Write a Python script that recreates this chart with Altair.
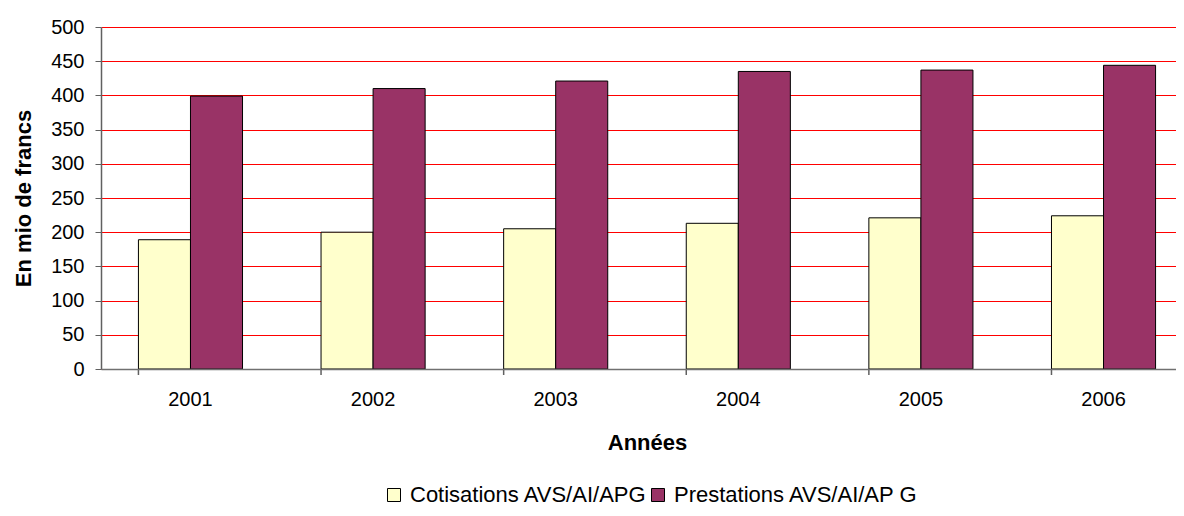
import altair as alt
import pandas as pd

years = ["2001", "2002", "2003", "2004", "2005", "2006"]
cotisations = [189, 200, 205, 213, 221, 224]
prestations = [399, 410, 421, 435, 437, 444]
series_names = ["Cotisations AVS/AI/APG", "Prestations AVS/AI/AP G"]
series_colors = ["#FFFFCC", "#993366"]
y_ticks = [0, 50, 100, 150, 200, 250, 300, 350, 400, 450, 500]

rows = []
for i, yv in enumerate(years):
    rows.append({"year": yv, "series": series_names[0], "value": cotisations[i]})
    rows.append({"year": yv, "series": series_names[1], "value": prestations[i]})
df = pd.DataFrame(rows)
df_years = pd.DataFrame({"year": years})

FONT = "Liberation Sans"
W, H = 1075, 342
FULL_W = 1092  # the category axis runs past the right edge of the picture

xscale = alt.Scale(domain=years, paddingInner=0.43, paddingOuter=0.205, range=[0, FULL_W])

bars = alt.Chart(df).mark_bar(stroke="#000000", strokeWidth=1).encode(
    x=alt.X("year:N", scale=xscale, sort=years,
            axis=alt.Axis(title="Années", labelAngle=0, ticks=False, tickSize=0,
                          labelFontSize=20, labelPadding=20, labelColor="#000000",
                          domainColor="#707070", domainWidth=1.5,
                          titleFontSize=22, titleFontWeight="bold", titleColor="#000000",
                          titleBaseline="alphabetic", titleX=546, titleY=80, zindex=1)),
    xOffset=alt.XOffset("series:N", sort=series_names, scale=alt.Scale(paddingInner=0, paddingOuter=0)),
    y=alt.Y("value:Q", scale=alt.Scale(domain=[0, 500], nice=False),
            axis=alt.Axis(title="En mio de francs", values=y_ticks, grid=True, gridColor="#FF0000",
                          gridWidth=1, gridOpacity=1, tickSize=6, tickColor="#606060",
                          domainColor="#606060", domainWidth=1.5, labelFontSize=20,
                          labelPadding=11, labelColor="#000000",
                          titleFontSize=22, titleFontWeight="bold", titleColor="#000000",
                          titleAngle=-90, titleBaseline="middle", titleX=-78, titleY=171)),
    color=alt.Color("series:N", sort=series_names,
                    scale=alt.Scale(domain=series_names, range=series_colors),
                    legend=alt.Legend(title=None, orient="none", direction="horizontal",
                                      legendX=282, legendY=457, symbolType="square",
                                      symbolSize=169, symbolStrokeColor="#000000",
                                      symbolStrokeWidth=1, labelFontSize=22, labelLimit=0,
                                      labelColor="#000000", labelOffset=5, columnPadding=0)),
)

ticks = alt.Chart(df_years).mark_rule(color="#606060", strokeWidth=1.5).encode(
    x=alt.X("year:N", scale=xscale, sort=years, bandPosition=0),
    y=alt.value(H),
    y2=alt.value(H + 6),
)

chart = alt.layer(bars, ticks).properties(
    width=W, height=H,
    autosize=alt.AutoSizeParams(type="none"),
    padding={"left": 93, "top": 19, "right": 0, "bottom": 139},
).configure(font=FONT).configure_view(stroke=None)

chart.save("out.html", embed_options={"renderer": "svg", "actions": False})
